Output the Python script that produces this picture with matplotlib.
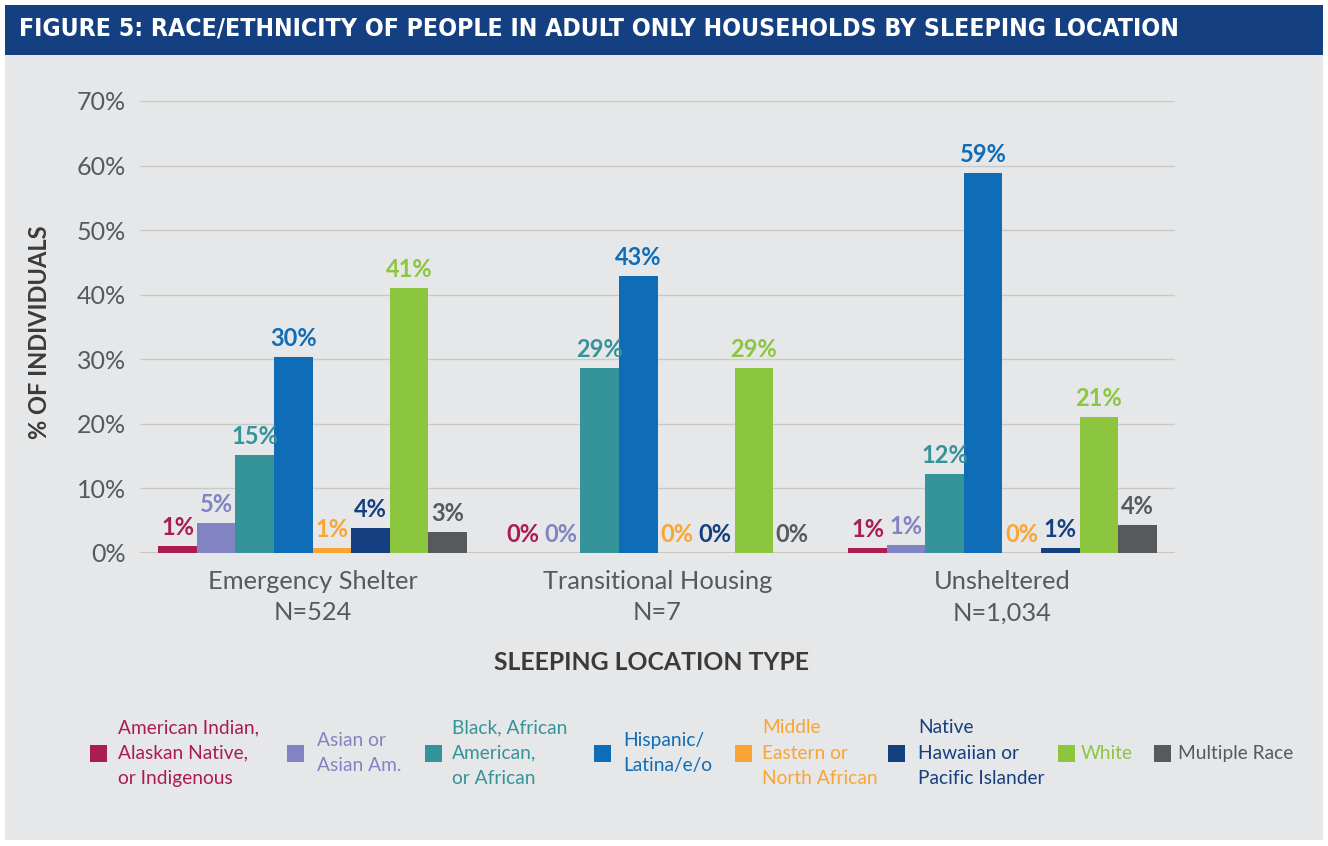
import matplotlib
matplotlib.use("Agg")
import matplotlib.pyplot as plt
from matplotlib.patches import Rectangle
import numpy as np

categories = ["Emergency Shelter\nN=524", "Transitional Housing\nN=7", "Unsheltered\nN=1,034"]
series_names = [
    "American Indian,\nAlaskan Native,\nor Indigenous",
    "Asian or\nAsian Am.",
    "Black, African\nAmerican,\nor African",
    "Hispanic/\nLatina/e/o",
    "Middle\nEastern or\nNorth African",
    "Native\nHawaiian or\nPacific Islander",
    "White",
    "Multiple Race",
]
values = [
    [1.1, 0.0, 0.8],     # American Indian
    [4.6, 0.0, 1.3],     # Asian
    [15.1, 28.6, 12.2],  # Black
    [30.3, 42.9, 58.8],  # Hispanic
    [0.8, 0.0, 0.0],     # MENA
    [3.8, 0.0, 0.8],     # NHPI
    [41.0, 28.6, 21.1],  # White
    [3.2, 0.0, 4.3],     # Multiple
]
labels = [
    ["1%", "0%", "1%"],
    ["5%", "0%", "1%"],
    ["15%", "29%", "12%"],
    ["30%", "43%", "59%"],
    ["1%", "0%", "0%"],
    ["4%", "0%", "1%"],
    ["41%", "29%", "21%"],
    ["3%", "0%", "4%"],
]
colors = ["#AB1C50", "#8283C2", "#35939A", "#0F6CB6", "#F9A533", "#143F80", "#8CC63F", "#58595B"]
yticks = [0, 10, 20, 30, 40, 50, 60, 70]

W, H = 1328, 846
fig = plt.figure(figsize=(W / 100, H / 100), dpi=100, facecolor="white")

reg = ["Lato", "DejaVu Sans"]

# background panel and title band
fig.patches.append(Rectangle((5 / W, 1 - 840 / H), 1318 / W, 785 / H, transform=fig.transFigure,
                             facecolor="#E6E7E8", edgecolor="none", zorder=0))
fig.patches.append(Rectangle((5 / W, 1 - 55 / H), 1318 / W, 50 / H, transform=fig.transFigure,
                             facecolor="#143F80", edgecolor="none", zorder=0))
fig.text(19 / W, 1 - 29 / H, "FIGURE 5: RACE/ETHNICITY OF PEOPLE IN ADULT ONLY HOUSEHOLDS BY SLEEPING LOCATION",
         color="white", fontsize=17.8, fontweight="bold", family="DejaVu Sans", fontstretch="condensed",
         va="center", ha="left")

ax = fig.add_axes([140 / W, 1 - 553 / H, 1035 / W, 452 / H])
ax.set_zorder(2)
ax.set_facecolor("none")
x = np.arange(len(categories))
n = len(values)
bw = 0.1116
for i in range(n):
    pos = x + (i - (n - 1) / 2) * bw
    ax.bar(pos, values[i], width=bw, color=colors[i], zorder=3)
    for p, v, lab in zip(pos, values[i], labels[i]):
        ax.text(p, v + 1.1, lab, ha="center", va="bottom", color=colors[i],
                fontsize=17, fontweight="bold", family=reg, zorder=4)

ax.set_xlim(-0.5, 2.5)
ax.set_ylim(0, 70)
ax.set_yticks(yticks)
ax.set_yticklabels([f"{t}%" for t in yticks], fontsize=18, color="#58595B", family=reg)
ax.grid(axis="y", color="#C9C9C9", linewidth=1, zorder=0)
ax.set_axisbelow(True)
for s in ax.spines.values():
    s.set_visible(False)
ax.axhline(0, color="#C8C4BE", linewidth=1.5, zorder=2)
ax.tick_params(axis="both", length=0, pad=10)
ax.set_xticks(x)
ax.set_xticklabels(categories, fontsize=18.3, color="#58595B", family=reg, linespacing=1.45)
ax.tick_params(axis="x", pad=12)

fig.text(651 / W, 1 - 662 / H, "SLEEPING LOCATION TYPE", ha="center", va="center",
         fontsize=17.8, fontweight="bold", color="#3A3A3A", family=reg)
fig.text(40 / W, 1 - 332 / H, "% OF INDIVIDUALS", ha="center", va="center", rotation=90,
         fontsize=17, fontweight="bold", color="#3A3A3A", family=reg)

# legend
sq = [90, 287, 425, 594, 735, 888, 1058, 1154]
tx = [118, 317, 452, 623, 762, 918, 1081, 1178]
yc = 1 - 753 / H
for i in range(n):
    fig.patches.append(Rectangle((sq[i] / W, yc - 9 / H), 17 / W, 17 / H, transform=fig.transFigure,
                                 facecolor=colors[i], edgecolor="none", zorder=1))
    fig.text(tx[i] / W, yc, series_names[i], ha="left", va="center", color=colors[i],
             fontsize=13.8, family=reg, linespacing=1.6)

fig.savefig("out.png", dpi=100, facecolor="white")
